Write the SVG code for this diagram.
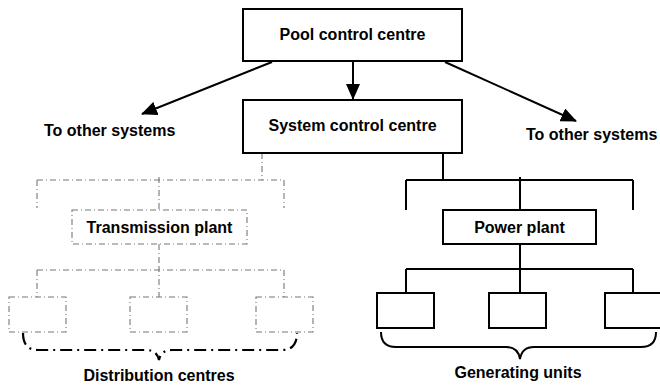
<svg xmlns="http://www.w3.org/2000/svg" width="660" height="389" viewBox="0 0 660 389">
<style>
.box{fill:#fff;stroke:#000;stroke-width:2}
.dbox{fill:none;stroke:#777;stroke-width:1.1;stroke-dasharray:6 3 1 3}
.ln{fill:none;stroke:#000;stroke-width:2}
.dl{fill:none;stroke:#777;stroke-width:1.1;stroke-dasharray:6 3 1 3}
.t{font-family:"Liberation Sans",Arial,sans-serif;font-weight:bold;font-size:16px;fill:#000}
.c{text-anchor:middle}
</style>
<defs>
<marker id="ah" markerUnits="userSpaceOnUse" markerWidth="16" markerHeight="14" refX="15" refY="7" orient="auto">
<path d="M0,0 L16,7 L0,14 z" fill="#000"/>
</marker>
</defs>
<g id="connectors">
<line class="ln" x1="353" y1="62" x2="353" y2="99" marker-end="url(#ah)"/>
<line class="ln" x1="272" y1="62" x2="142" y2="114" marker-end="url(#ah)"/>
<line class="ln" x1="445" y1="62" x2="576" y2="121" marker-end="url(#ah)"/>
<path class="dl" d="M262,153 V180 M37,180 H284 M37,180 V208 M159,177 V210 M284,180 V208"/>
<path class="dl" d="M159,244 V270 M37,270 H284 M37,270 V297 M159,266 V297 M284,270 V297"/>
<path class="ln" d="M443,153 V180 M406,180 H633 M406,180 V210 M520,177 V210 M633,180 V210"/>
<path class="ln" d="M520,244 V269 M406,269 H633 M406,269 V293 M520,269 V293 M633,269 V293"/>
</g>
<g id="pool"><rect class="box" x="243" y="9" width="219" height="52"/><text class="t c" x="352.5" y="40">Pool control centre</text></g>
<g id="system"><rect class="box" x="243" y="100" width="219" height="53"/><text class="t c" x="352.5" y="131">System control centre</text></g>
<g id="other-left"><text class="t" x="44" y="136">To other systems</text></g>
<g id="other-right"><text class="t" x="526" y="140">To other systems</text></g>
<g id="transmission"><rect class="dbox" x="72" y="210" width="175" height="34"/><text class="t c" x="159.5" y="233">Transmission plant</text></g>
<g id="dist1"><rect class="dbox" x="9" y="297" width="57" height="35"/></g>
<g id="dist2"><rect class="dbox" x="130" y="297" width="57" height="35"/></g>
<g id="dist3"><rect class="dbox" x="256" y="297" width="57" height="35"/></g>
<g id="dist-brace"><path d="M23,333 Q23,350 38,350 L146,350 Q157,350 159,360 Q161,350 172,350 L282,350 Q297,350 297,333" fill="none" stroke="#000" stroke-width="2.2" stroke-dasharray="12 5 2 5"/><text class="t c" x="159" y="381">Distribution centres</text></g>
<g id="power"><rect class="box" x="443" y="210" width="153" height="34"/><text class="t c" x="519.5" y="233">Power plant</text></g>
<g id="gen1"><rect class="box" x="377" y="293" width="57" height="35"/></g>
<g id="gen2"><rect class="box" x="489" y="293" width="57" height="35"/></g>
<g id="gen3"><rect class="box" x="605" y="293" width="58" height="35"/></g>
<g id="gen-brace"><path class="ln" d="M381,332 Q381,347 396,347 L506,347 Q518,347 520,359 Q522,347 534,347 L641,347 Q656,347 656,332"/><text class="t c" x="518" y="378">Generating units</text></g>
</svg>
